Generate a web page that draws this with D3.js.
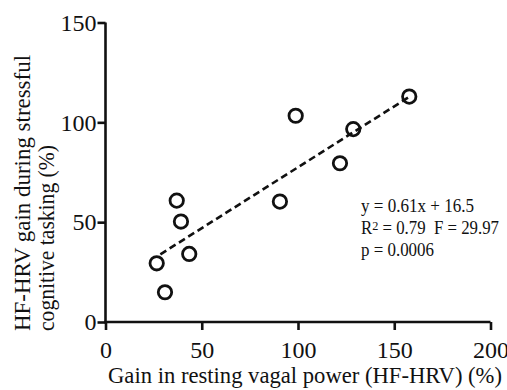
<!DOCTYPE html>
<html>
<head>
<meta charset="utf-8">
<script src="https://cdn.jsdelivr.net/npm/d3@7/dist/d3.min.js"></script>
<style>
  html, body { margin: 0; padding: 0; background: #fff; }
  svg { display: block; }
  text { font-family: "Liberation Serif", "Times New Roman", serif; fill: #111; }
</style>
</head>
<body>
<svg id="chart" width="507" height="390"></svg>
<script>
// Resting vagal power gain vs. HF-HRV gain under stressful cognitive tasking
const restingGain = [37, 39.2, 43.5, 26.6, 30.9, 90.6, 98.8, 121.8, 128.7, 157.8];
const taskGain    = [60.8, 50.3, 34.1, 29.4, 14.9, 60.3, 103.3, 79.5, 96.6, 112.9];

const xTicks = [0, 50, 100, 150, 200];
const yTicks = [0, 50, 100, 150];

// Fitted regression line y = 0.61x + 16.5, drawn across the data range
const fitSlope = 0.61;
const fitIntercept = 16.5;
const fitRange = [28.5, 158];

const statLines = ["y = 0.61x + 16.5", " = 0.79\u00a0\u00a0F = 29.97", "p = 0.0006"];

const svg = d3.select("#chart");
const x = d3.scaleLinear().domain([0, 200]).range([105.5, 490.5]);
const y = d3.scaleLinear().domain([0, 150]).range([322, 22.5]);

const axisStroke = 2.6;
const serif = '"Liberation Serif", "Times New Roman", serif';

// Y axis
const yAxis = svg.append("g")
  .attr("transform", `translate(${x(0)},0)`)
  .call(d3.axisLeft(y).tickValues(yTicks).tickSize(8).tickSizeOuter(0).tickPadding(1));
// X axis
const xAxis = svg.append("g")
  .attr("transform", `translate(0,${y(0)})`)
  .call(d3.axisBottom(x).tickValues(xTicks).tickSize(8).tickSizeOuter(0).tickPadding(11));

[xAxis, yAxis].forEach(g => {
  g.select(".domain").attr("stroke", "#111").attr("stroke-width", axisStroke);
  g.selectAll(".tick line").attr("stroke", "#111").attr("stroke-width", axisStroke);
  g.selectAll(".tick text")
    .attr("fill", "#111")
    .style("font-family", serif)
    .style("font-size", "24px");
});
// Extend domain lines so the two axes meet in a clean corner
xAxis.select(".domain").attr("d", `M${x(0) - axisStroke / 2},0H${x(200)}`);
yAxis.select(".domain").attr("d", `M0,${y(150)}V${y(0) + axisStroke / 2}`);

// Regression line
svg.append("line")
  .attr("x1", x(fitRange[0])).attr("y1", y(fitSlope * fitRange[0] + fitIntercept))
  .attr("x2", x(fitRange[1])).attr("y2", y(fitSlope * fitRange[1] + fitIntercept))
  .attr("stroke", "#111").attr("stroke-width", 2.6)
  .attr("stroke-dasharray", "7,4");

// Data points: open circles
svg.append("g").selectAll("circle")
  .data(restingGain.map((v, i) => [v, taskGain[i]]))
  .join("circle")
  .attr("cx", d => x(d[0]))
  .attr("cy", d => y(d[1]))
  .attr("r", 6.7)
  .attr("fill", "none")
  .attr("stroke", "#111")
  .attr("stroke-width", 2.8);

// Statistics annotation
const stats = svg.append("g").style("font-size", "18.5px");
stats.append("text").attr("x", 361).attr("y", 212)
  .attr("textLength", 113).attr("lengthAdjust", "spacingAndGlyphs").text(statLines[0]);
const r2 = stats.append("text").attr("x", 361).attr("y", 234)
  .attr("textLength", 138).attr("lengthAdjust", "spacingAndGlyphs");
r2.append("tspan").text("R");
r2.append("tspan").attr("font-size", "13.5px").attr("dy", -4).text("2");
r2.append("tspan").attr("dy", 4).text(statLines[1]);
stats.append("text").attr("x", 361).attr("y", 256)
  .attr("textLength", 73).attr("lengthAdjust", "spacingAndGlyphs").text(statLines[2]);

// Axis titles
svg.append("text")
  .attr("x", 108).attr("y", 383)
  .style("font-size", "22.5px")
  .attr("textLength", 394).attr("lengthAdjust", "spacingAndGlyphs")
  .text("Gain in resting vagal power (HF-HRV) (%)");

const yTitle = svg.append("text")
  .attr("transform", "translate(30,331) rotate(-90)")
  .style("font-size", "22.5px");
yTitle.append("tspan").attr("x", 0).attr("y", 0)
  .attr("textLength", 276).attr("lengthAdjust", "spacingAndGlyphs")
  .text("HF-HRV gain during stressful");
yTitle.append("tspan").attr("x", 0).attr("y", 23.5)
  .attr("textLength", 186).attr("lengthAdjust", "spacingAndGlyphs")
  .text("cognitive tasking (%)");
</script>
</body>
</html>
